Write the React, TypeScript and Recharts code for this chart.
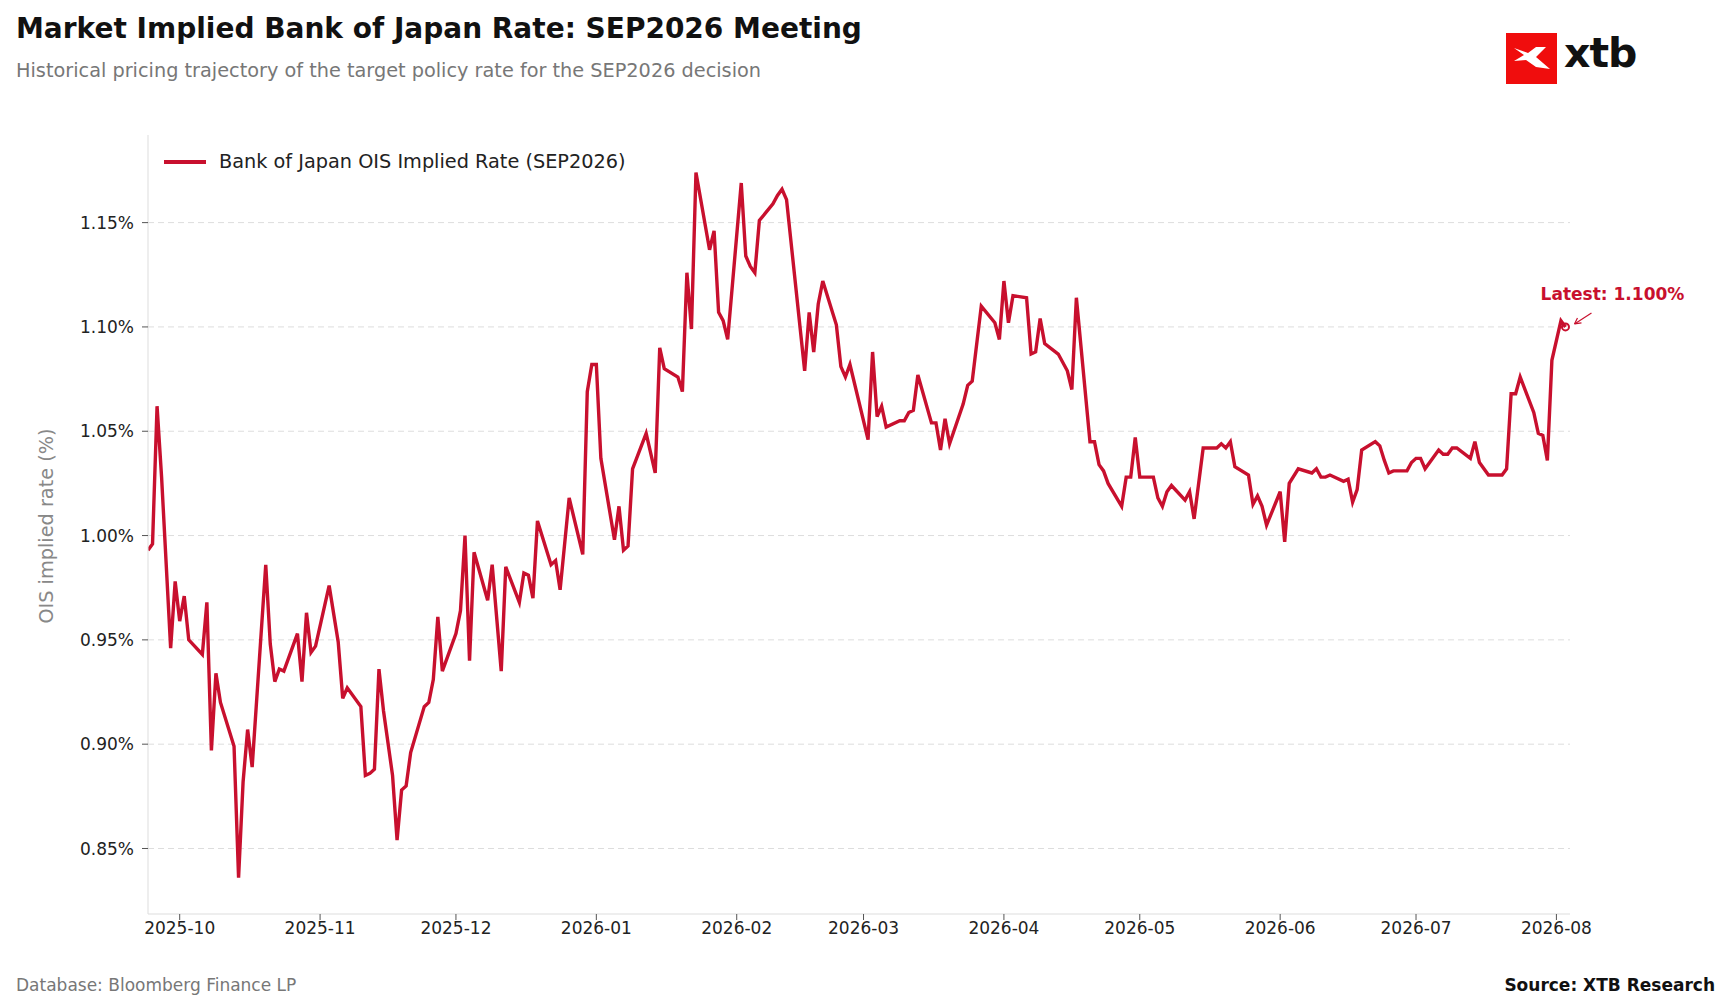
import React from "react";
import { LineChart, Line, XAxis, YAxis, CartesianGrid, ReferenceDot } from "recharts";

const dates: string[] = [
"2025-09-24","2025-09-25","2025-09-26","2025-09-27","2025-09-29","2025-09-30","2025-10-01","2025-10-02","2025-10-03",
"2025-10-06","2025-10-07","2025-10-08","2025-10-09","2025-10-10","2025-10-13","2025-10-14","2025-10-15","2025-10-16","2025-10-17",
"2025-10-20","2025-10-21","2025-10-22","2025-10-23","2025-10-24","2025-10-27","2025-10-28","2025-10-29","2025-10-30","2025-10-31",
"2025-11-03","2025-11-05","2025-11-06","2025-11-07","2025-11-10","2025-11-11","2025-11-12","2025-11-13","2025-11-14","2025-11-15",
"2025-11-17","2025-11-18","2025-11-19","2025-11-20","2025-11-21","2025-11-24","2025-11-25","2025-11-26","2025-11-27","2025-11-28",
"2025-12-01","2025-12-02","2025-12-03","2025-12-04","2025-12-05","2025-12-08","2025-12-09","2025-12-11","2025-12-12",
"2025-12-15","2025-12-16","2025-12-17","2025-12-18","2025-12-19","2025-12-22","2025-12-23","2025-12-24","2025-12-26",
"2025-12-29","2025-12-30","2025-12-31","2026-01-01","2026-01-02","2026-01-05","2026-01-06","2026-01-07","2026-01-08","2026-01-09",
"2026-01-12","2026-01-14","2026-01-15","2026-01-16","2026-01-19","2026-01-20","2026-01-21","2026-01-22","2026-01-23",
"2026-01-26","2026-01-27","2026-01-28","2026-01-29","2026-01-30","2026-02-02","2026-02-03","2026-02-04","2026-02-05","2026-02-06",
"2026-02-09","2026-02-10","2026-02-11","2026-02-12","2026-02-16","2026-02-17","2026-02-18","2026-02-19","2026-02-20",
"2026-02-23","2026-02-24","2026-02-25","2026-02-26","2026-03-02","2026-03-03","2026-03-04","2026-03-05","2026-03-06",
"2026-03-09","2026-03-10","2026-03-11","2026-03-12","2026-03-13","2026-03-16","2026-03-17","2026-03-18","2026-03-19","2026-03-20",
"2026-03-23","2026-03-24","2026-03-25","2026-03-27","2026-03-30","2026-03-31","2026-04-01","2026-04-02","2026-04-03",
"2026-04-06","2026-04-07","2026-04-08","2026-04-09","2026-04-10","2026-04-13","2026-04-15","2026-04-16","2026-04-17",
"2026-04-20","2026-04-21","2026-04-22","2026-04-23","2026-04-24","2026-04-27","2026-04-28","2026-04-29","2026-04-30","2026-05-01",
"2026-05-04","2026-05-05","2026-05-06","2026-05-07","2026-05-08","2026-05-11","2026-05-12","2026-05-13","2026-05-15",
"2026-05-18","2026-05-19","2026-05-20","2026-05-21","2026-05-22","2026-05-25","2026-05-26","2026-05-27","2026-05-28","2026-05-29",
"2026-06-01","2026-06-02","2026-06-03","2026-06-05","2026-06-08","2026-06-09","2026-06-10","2026-06-11","2026-06-12",
"2026-06-15","2026-06-16","2026-06-17","2026-06-18","2026-06-19","2026-06-22","2026-06-23","2026-06-24","2026-06-25","2026-06-26",
"2026-06-29","2026-06-30","2026-07-01","2026-07-02","2026-07-03","2026-07-06","2026-07-07","2026-07-08","2026-07-09","2026-07-10",
"2026-07-13","2026-07-14","2026-07-15","2026-07-17","2026-07-20","2026-07-21","2026-07-22","2026-07-23","2026-07-24",
"2026-07-27","2026-07-28","2026-07-29","2026-07-30","2026-07-31","2026-08-02","2026-08-03"];

const rates: number[] = [
0.993,0.996,1.062,1.028,0.946,0.978,0.959,0.971,0.950,
0.943,0.968,0.897,0.934,0.920,0.899,0.836,0.882,0.907,0.889,
0.986,0.948,0.930,0.936,0.935,0.953,0.930,0.963,0.944,0.947,
0.976,0.949,0.922,0.927,0.918,0.885,0.886,0.888,0.936,0.916,
0.885,0.854,0.878,0.880,0.896,0.918,0.920,0.931,0.961,0.935,
0.953,0.964,1.000,0.940,0.992,0.969,0.986,0.935,0.985,
0.968,0.982,0.981,0.970,1.007,0.986,0.988,0.974,1.018,
0.991,1.069,1.082,1.082,1.037,0.998,1.014,0.993,0.995,1.032,
1.049,1.030,1.090,1.080,1.076,1.069,1.126,1.099,1.174,
1.137,1.146,1.107,1.103,1.094,1.169,1.134,1.129,1.126,1.151,
1.159,1.163,1.166,1.161,1.079,1.107,1.088,1.111,1.122,
1.101,1.081,1.076,1.082,1.046,1.088,1.057,1.062,1.052,
1.055,1.055,1.059,1.060,1.077,1.054,1.054,1.041,1.056,1.044,
1.063,1.072,1.074,1.110,1.102,1.094,1.122,1.102,1.115,
1.114,1.087,1.088,1.104,1.092,1.087,1.079,1.070,1.114,
1.045,1.045,1.034,1.031,1.025,1.014,1.028,1.028,1.047,1.028,
1.028,1.018,1.014,1.021,1.024,1.017,1.021,1.008,1.042,
1.042,1.044,1.042,1.045,1.033,1.029,1.015,1.019,1.014,1.005,
1.021,0.997,1.025,1.032,1.030,1.032,1.028,1.028,1.029,
1.026,1.027,1.016,1.022,1.041,1.045,1.043,1.036,1.030,1.031,
1.031,1.035,1.037,1.037,1.032,1.041,1.039,1.039,1.042,1.042,
1.037,1.045,1.035,1.029,1.029,1.032,1.068,1.068,1.076,
1.059,1.049,1.048,1.036,1.084,1.103,1.100];

const monthTicks: string[] = ["2025-10-01","2025-11-01","2025-12-01","2026-01-01","2026-02-01","2026-03-01","2026-04-01","2026-05-01","2026-06-01","2026-07-01","2026-08-01"];
const rateTicks: number[] = [0.85, 0.9, 0.95, 1.0, 1.05, 1.1, 1.15];
const Y_MIN = 0.8186;
const Y_MAX = 1.192;

const ts = (s: string) => Date.parse(s + "T00:00:00Z");
const data = dates.map((d, i) => ({ t: ts(d), v: rates[i] }));
const last = data[data.length - 1];
const RED = "#c8102e";
const FONT = "'DejaVu Sans', sans-serif";

const LatestMarker = (props: any) => {
  const { cx, cy } = props;
  return (
    <g>
      <circle cx={cx} cy={cy} r={3.5} fill="none" stroke={RED} strokeWidth={2} />
      <line x1={cx + 26} y1={cy - 14} x2={cx + 9} y2={cy - 3} stroke={RED} strokeWidth={1.2} />
      <path d={`M ${cx + 9} ${cy - 3} l 7 -1 M ${cx + 9} ${cy - 3} l 3 -6`} stroke={RED} strokeWidth={1.2} fill="none" />
      <text x={cx + 47} y={cy - 27} textAnchor="middle" fill={RED} fontWeight="bold" fontSize={17} fontFamily={FONT}>
        Latest: {last.v.toFixed(3)}%
      </text>
    </g>
  );
};

export default function App() {
  return (
    <div style={{ position: "absolute", left: 0, top: 0, width: 1731, height: 1006, background: "#fff", fontFamily: FONT }}>
      <div style={{ position: "absolute", left: 16, top: 12, fontSize: 28, fontWeight: "bold", color: "#111" }}>
        Market Implied Bank of Japan Rate: SEP2026 Meeting
      </div>
      <div style={{ position: "absolute", left: 16, top: 59, fontSize: 19.3, color: "#777" }}>
        Historical pricing trajectory of the target policy rate for the SEP2026 decision
      </div>
      <div style={{ position: "absolute", left: 1506, top: 33, width: 51, height: 51, background: "#f00d0d" }}>
        <svg width={51} height={51}>
          <path d="M8 15 L22 20 L30 14 L40 14 L30 24 L44 36 L30 34 L20 27 L8 28 L18 22 Z" fill="#fff" />
        </svg>
      </div>
      <div style={{ position: "absolute", left: 1564, top: 29, fontSize: 41, fontWeight: "bold", color: "#111", letterSpacing: -1 }}>xtb</div>
      <div style={{ position: "absolute", left: 16, top: 975, fontSize: 17, color: "#777" }}>Database: Bloomberg Finance LP</div>
      <div style={{ position: "absolute", right: 16, top: 975, fontSize: 17, fontWeight: "bold", color: "#111" }}>Source: XTB Research</div>
      <div style={{ position: "absolute", left: 164, top: 150, display: "flex", alignItems: "center" }}>
        <div style={{ width: 42, height: 4, background: RED }} />
        <span style={{ marginLeft: 13, fontSize: 19.3, color: "#222" }}>Bank of Japan OIS Implied Rate (SEP2026)</span>
      </div>
      <div style={{ position: "absolute", left: 46, top: 526, transform: "translate(-50%,-50%) rotate(-90deg)", fontSize: 19.3, color: "#888", whiteSpace: "nowrap" }}>
        OIS implied rate (%)
      </div>
      <div style={{ position: "absolute", left: 0, top: 0 }}>
        <LineChart width={1731} height={1006} data={data} margin={{ top: 135, right: 161, bottom: 62, left: 88 }}>
          <CartesianGrid horizontal vertical={false} stroke="#dddddd" strokeDasharray="6 4"
            horizontalCoordinatesGenerator={({ offset }: any) =>
              rateTicks.map((t) => offset.top + (offset.height * (Y_MAX - t)) / (Y_MAX - Y_MIN))} />
          <XAxis dataKey="t" type="number" scale="time" domain={[ts("2025-09-24"), ts("2026-08-04")]}
            ticks={monthTicks.map(ts)} tickFormatter={(v: number) => new Date(v).toISOString().slice(0, 7)}
            height={30} stroke="#dddddd" tickLine={{ stroke: "#555" }} tickSize={6}
            tick={{ fill: "#222", fontSize: 17, fontFamily: FONT }} allowDataOverflow />
          <YAxis type="number" domain={[Y_MIN, Y_MAX]} ticks={rateTicks} width={60}
            tickFormatter={(v: number) => v.toFixed(2) + "%"} stroke="#dddddd" tickLine={{ stroke: "#555" }} tickSize={6}
            tickMargin={8} tick={{ fill: "#222", fontSize: 17, fontFamily: FONT }} allowDataOverflow />
          <Line type="linear" dataKey="v" stroke={RED} strokeWidth={3.4} dot={false} isAnimationActive={false} />
          <ReferenceDot x={last.t} y={last.v} shape={LatestMarker} />
        </LineChart>
      </div>
    </div>
  );
}
